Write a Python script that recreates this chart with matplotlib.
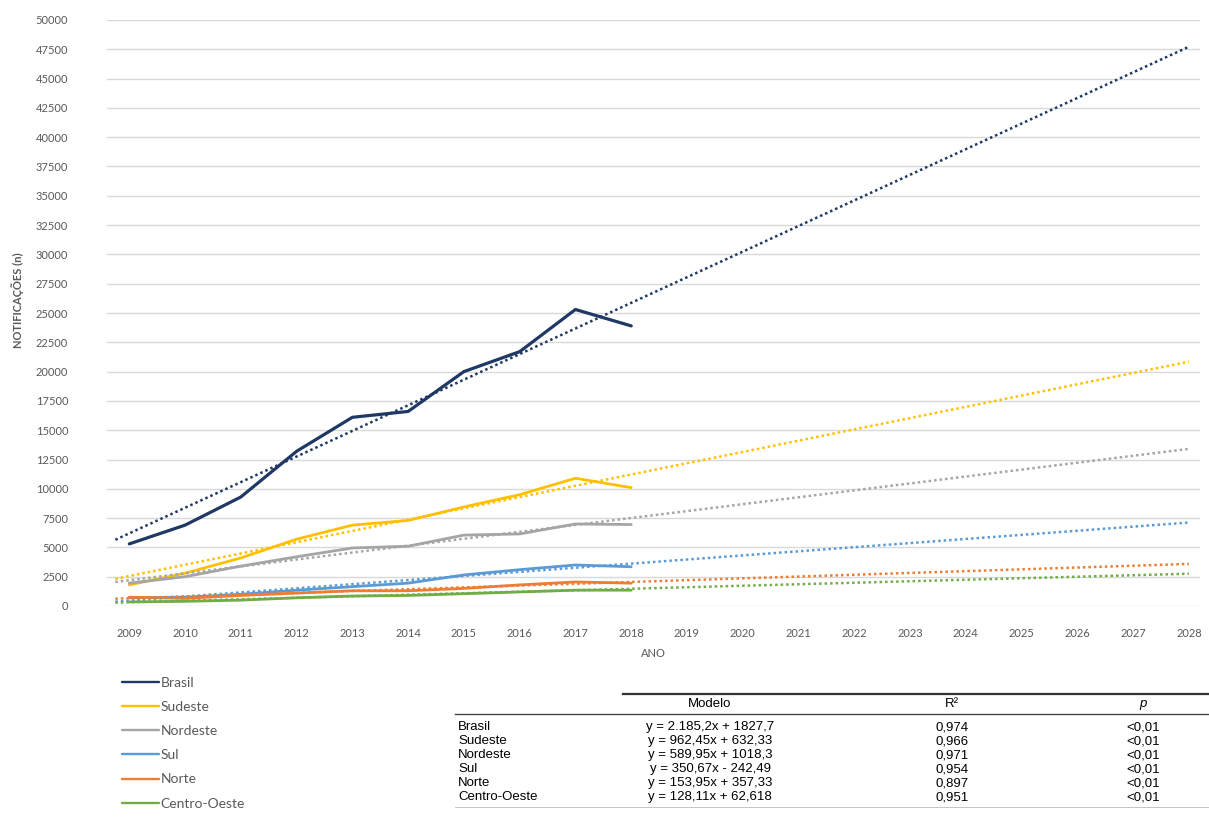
import numpy as np
import matplotlib
matplotlib.use("Agg")
import matplotlib.pyplot as plt
from matplotlib.lines import Line2D

# notificações por região
anos = [2009, 2010, 2011, 2012, 2013, 2014, 2015, 2016, 2017, 2018]
brasil = [5300, 6900, 9300, 13200, 16100, 16600, 20000, 21700, 25300, 23900]
sudeste = [1800, 2800, 4100, 5700, 6900, 7300, 8450, 9500, 10900, 10100]
nordeste = [1950, 2500, 3400, 4200, 4950, 5100, 6050, 6150, 7000, 6950]
sul = [700, 750, 1000, 1350, 1650, 1950, 2650, 3100, 3500, 3350]
norte = [750, 650, 900, 1100, 1300, 1300, 1500, 1800, 2050, 1950]
centro_oeste = [350, 400, 500, 700, 850, 900, 1050, 1200, 1350, 1350]

regioes = ["Brasil", "Sudeste", "Nordeste", "Sul", "Norte", "Centro-Oeste"]
cores = ["#1F3864", "#FFC000", "#A5A5A5", "#5B9BD5", "#ED7D31", "#70AD47"]

# modelos de tendência (tabela)
inclinacao = [2185.2, 962.45, 589.95, 350.67, 153.95, 128.11]
intercepto = [1827.7, 632.33, 1018.3, -242.49, 357.33, 62.618]
modelos = ["y = 2.185,2x + 1827,7", "y = 962,45x + 632,33", "y = 589,95x + 1018,3",
           "y = 350,67x - 242,49", "y = 153,95x + 357,33", "y = 128,11x + 62,618"]
r2 = ["0,974", "0,966", "0,971", "0,954", "0,897", "0,951"]
pval = ["<0,01"] * 6

anos_eixo = list(range(2009, 2029))

W, H = 1209, 839
fig = plt.figure(figsize=(W / 100, H / 100), dpi=100)
ax = fig.add_axes([107 / W, 1 - 606 / H, 1093 / W, 586 / H])

series = [brasil, sudeste, nordeste, sul, norte, centro_oeste]
larg = [2.3, 2.0, 2.0, 2.0, 2.0, 2.0]
handles = []
for nome, vals, cor, lw in zip(regioes, series, cores, larg):
    h, = ax.plot(anos, vals, color=cor, lw=lw, solid_capstyle="round", zorder=3)
    handles.append(h)

# linhas de tendência, índice x = ano - 2007 como no gráfico original
xt = np.array([2008.75, 2028])
for a, b, cor in zip(inclinacao, intercepto, cores):
    ax.plot(xt, a * (xt - 2007) + b, color=cor, lw=1.8, ls=(0, (1, 1.2)), zorder=4)

ax.set_xlim(2008.6, 2028.2)
ax.set_ylim(0, 50000)
ax.set_yticks(np.arange(0, 50001, 2500))
ax.set_xticks(anos_eixo)
ax.grid(axis="y", color="#D9D9D9", lw=1)
ax.set_axisbelow(True)
for s in ax.spines.values():
    s.set_visible(False)
ax.tick_params(length=0, labelsize=8, labelcolor="#595959", labelfontfamily="Lato")
ax.tick_params(axis="y", pad=28)
ax.tick_params(axis="x", pad=16)
ax.set_xlabel("ANO", fontsize=8, color="#595959", family="Lato", labelpad=6)
fig.text(18 / W, 1 - 300 / H, "NOTIFICAÇÕES (n)", rotation=90, ha="center", va="center",
         fontsize=8, color="#595959", family="Lato", fontweight="bold")

leg = fig.legend(handles, regioes, loc="upper left", bbox_to_anchor=(116 / W, 1 - 671 / H),
                 frameon=False, handlelength=2.7, handletextpad=0.1,
                 labelspacing=0.88, borderaxespad=0, prop={"family": "Lato", "size": 10})
for t in leg.get_texts():
    t.set_color("#595959")
for ln in leg.get_lines():
    ln.set_linewidth(1.7)

# tabela dos modelos
fx = lambda px: px / W
fy = lambda py: 1 - py / H
tab_font = ["Liberation Sans"]
fig.add_artist(Line2D([fx(623), fx(1209)], [fy(694), fy(694)], color="#333333", lw=1.6))
fig.add_artist(Line2D([fx(455), fx(1209)], [fy(714), fy(714)], color="#444444", lw=1.0))
fig.add_artist(Line2D([fx(455), fx(1209)], [fy(807), fy(807)], color="#BBBBBB", lw=0.6))
fig.text(fx(710), fy(704), "Modelo", ha="center", va="center", fontsize=9.5, family=tab_font)
fig.text(fx(952), fy(704), "R²", ha="center", va="center", fontsize=9.5, family=tab_font)
fig.text(fx(1143), fy(704), "p", ha="center", va="center", fontsize=9.5, family=tab_font,
         style="italic")
for i, (nome, mod, r, p) in enumerate(zip(regioes, modelos, r2, pval)):
    yy = fy(727 + 14 * i)
    fig.text(fx(458), yy, nome, ha="left", va="center", fontsize=9.5, family=tab_font)
    fig.text(fx(710), yy, mod, ha="center", va="center", fontsize=9.5, family=tab_font)
    fig.text(fx(952), yy, r, ha="center", va="center", fontsize=9.5, family=tab_font)
    fig.text(fx(1143), yy, p, ha="center", va="center", fontsize=9.5, family=tab_font)

fig.savefig("out.png", dpi=100)
